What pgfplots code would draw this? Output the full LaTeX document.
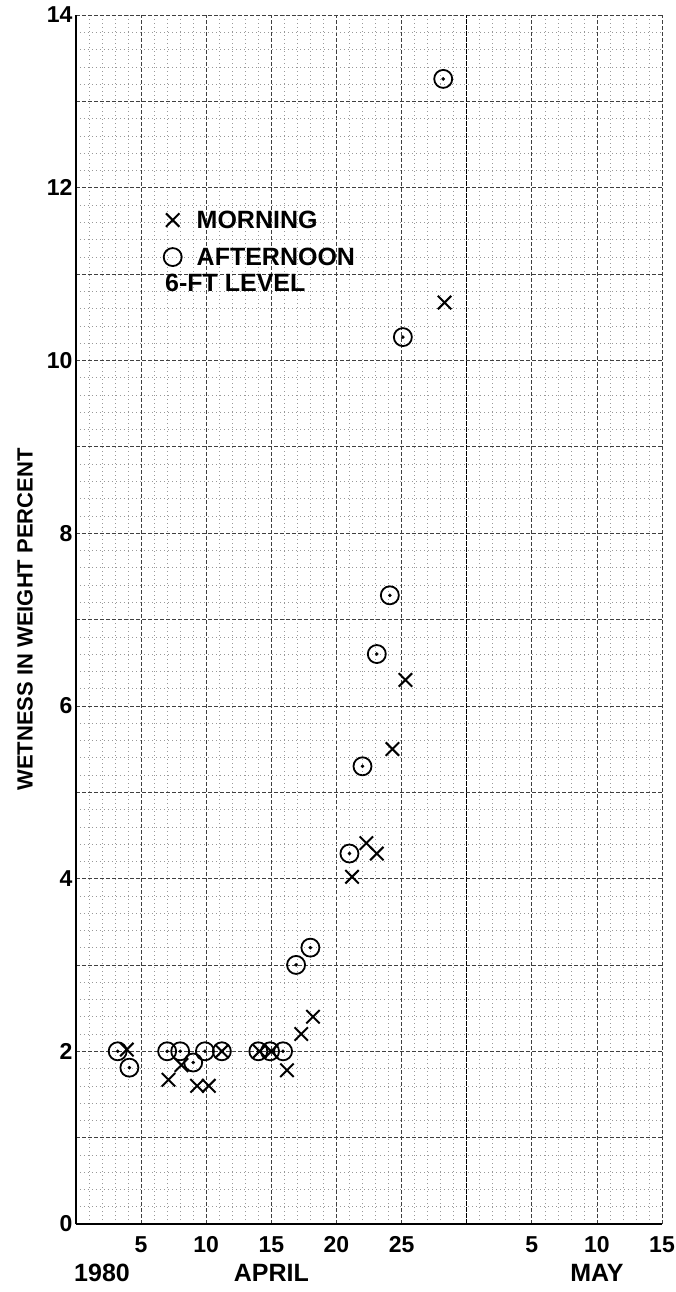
\documentclass[border=0pt]{standalone}
\usepackage{fontspec}
\setmainfont{Liberation Sans}
\usepackage{pgfplots}
\pgfplotsset{compat=1.18}
\begin{document}
\begin{tikzpicture}
\path[use as bounding box] (-76pt,-68pt) rectangle (600pt,1224pt);
\begin{axis}[
  at={(0,0)}, anchor=south west,
  scale only axis, width=586pt, height=1209pt,
  xmin=0, xmax=45, ymin=0, ymax=14,
  clip=false,
  axis lines*=left,
  axis line style={line width=2.2pt, black},
  grid=both,
  major grid style={black!75, line width=0.7pt, dash pattern=on 4pt off 2pt},
  minor grid style={black!40, line width=0.5pt, dash pattern=on 1pt off 3pt},
  major tick length=0pt, minor tick length=0pt,
  xtick={0,5,...,45}, xticklabels={,5,10,15,20,25,,5,10,15},
  minor x tick num=4,
  ytick={0,1,...,14}, yticklabels={0,,2,,4,,6,,8,,10,,12,,14},
  minor y tick num=4,
  extra x ticks={30}, extra x tick labels={},
  extra x tick style={major grid style={black, line width=1.3pt, dash pattern=on 5pt off 1pt}},
  /pgf/number format/assume math mode=true,
  tick label style={font=\fontsize{23}{26}\selectfont\bfseries},
  xticklabel style={yshift=-9pt},
  ylabel={WETNESS IN WEIGHT PERCENT},
  ylabel style={at={(axis description cs:0,0.5)}, anchor=center, yshift=51pt, font=\fontsize{22}{24}\selectfont\bfseries},
  legend style={at={(axis cs:6.72,11.76)}, anchor=north west, draw=none, fill=none,
    inner sep=0pt, font=\fontsize{25}{28}\selectfont\bfseries, row sep=14pt,
    /tikz/every odd column/.append style={column sep=13pt}},
  legend cell align=left,
]
\addplot[only marks, mark=x, mark size=9.5pt, mark options={line width=2pt, black}] coordinates {
(3.9,2.02) (7.1,1.67) (8.1,1.84) (9.3,1.60) (10.2,1.60) (11.2,2.0) (14.1,2.0) (15.0,2.0)
(16.2,1.78) (17.3,2.2) (18.2,2.4) (21.2,4.02) (22.3,4.41) (23.1,4.29) (24.3,5.5) (25.3,6.3) (28.3,10.67)
};
\addlegendentry{MORNING}
\addplot[only marks, mark=o, mark size=9pt, mark options={line width=1.8pt, black}] coordinates {
(3.2,2.0) (4.1,1.81) (7.0,2.0) (8.0,2.0) (9.0,1.87) (9.9,2.0) (11.2,2.0) (14.0,2.0) (14.9,2.0)
(15.9,2.0) (16.9,3.0) (18.0,3.2) (21.0,4.29) (22.0,5.3) (23.1,6.6) (24.1,7.28) (25.1,10.27) (28.2,13.26)
};
\addlegendentry{AFTERNOON}
\addplot[only marks, mark=*, mark size=1.6pt, black, forget plot] coordinates {
(3.2,2.0) (4.1,1.81) (7.0,2.0) (8.0,2.0) (9.0,1.87) (9.9,2.0) (11.2,2.0) (14.0,2.0) (14.9,2.0)
(15.9,2.0) (16.9,3.0) (18.0,3.2) (21.0,4.29) (22.0,5.3) (23.1,6.6) (24.1,7.28) (25.1,10.27) (28.2,13.26)
};
\node[anchor=west, inner sep=0pt, font=\fontsize{25}{28}\selectfont\bfseries] at (axis cs:6.83,10.9) {6-FT LEVEL};
\node[font=\fontsize{25}{28}\selectfont\bfseries] at (axis cs:2,0) [yshift=-49pt] {1980};
\node[font=\fontsize{25}{28}\selectfont\bfseries] at (axis cs:15,0) [yshift=-49pt] {APRIL};
\node[font=\fontsize{25}{28}\selectfont\bfseries] at (axis cs:40,0) [yshift=-49pt] {MAY};
\end{axis}
\end{tikzpicture}
\end{document}
